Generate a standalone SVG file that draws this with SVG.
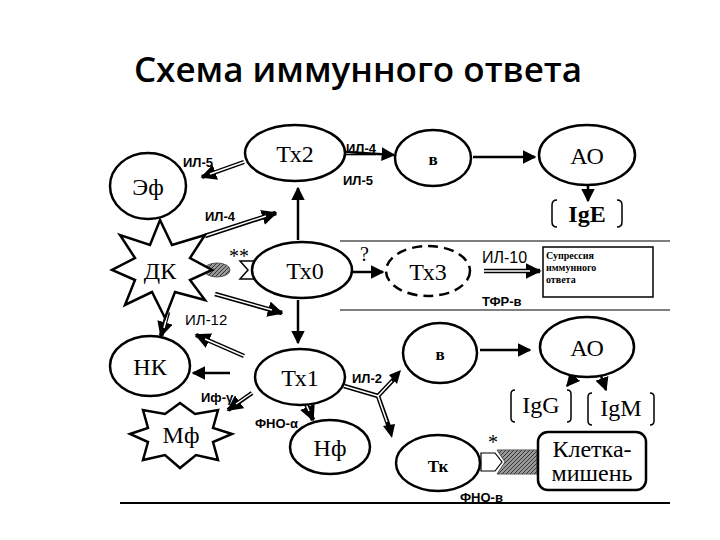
<svg xmlns="http://www.w3.org/2000/svg" width="720" height="540" viewBox="0 0 720 540">
<defs>
<style>
.n{fill:#fff;stroke:#000;stroke-width:2.5}
.d{fill:#fff;stroke:#000;stroke-width:2.5;stroke-dasharray:10 6}
.t{font-family:"Liberation Serif",serif;font-size:24px;text-anchor:middle}
.tb{font-family:"Liberation Serif",serif;font-size:17px;font-weight:bold;text-anchor:middle}
.l{font-family:"Liberation Sans",sans-serif;font-size:13px;font-weight:bold}
.s{stroke:#000;stroke-width:2.5;fill:none}
.dbo{stroke:#000;stroke-width:4.5;fill:none}
.dbi{stroke:#fff;stroke-width:1.5;fill:none}
.br{fill:none;stroke:#000;stroke-width:1.5}
.sep{stroke:#555;stroke-width:1.5}
</style>
<marker id="a" viewBox="0 0 10 10" refX="9" refY="5" markerWidth="5.5" markerHeight="5.5" orient="auto" markerUnits="strokeWidth"><path d="M0,0 L10,5 L0,10 z"/></marker>
<marker id="a2" viewBox="0 0 10 10" refX="9" refY="5" markerWidth="3.5" markerHeight="3.5" orient="auto" markerUnits="strokeWidth"><path d="M0,0 L10,5 L0,10 z"/></marker>
<pattern id="h" width="4" height="4" patternUnits="userSpaceOnUse"><rect width="4" height="4" fill="#999"/><path d="M0,4 L4,0" stroke="#333" stroke-width="1"/></pattern>
</defs>
<rect width="720" height="540" fill="#fff"/>
<text x="358" y="82" font-family="Open Sans, sans-serif" font-size="35" font-weight="600" text-anchor="middle">Схема иммунного ответа</text>
<line class="sep" x1="340" y1="241" x2="670" y2="241"/>
<line class="sep" x1="340" y1="310" x2="670" y2="310"/>
<line x1="120" y1="503" x2="670" y2="503" stroke="#000" stroke-width="2"/>

<g id="connectors">
<path class="dbo" d="M244,162 L202,177" marker-end="url(#a2)"/><path class="dbi" d="M244,162 L210,174"/>
<path class="dbo" d="M205,236 L276,213" marker-end="url(#a2)"/><path class="dbi" d="M205,236 L266,216"/>
<path class="s" d="M298,240 L298,188" marker-end="url(#a)"/>
<path class="s" d="M346,152 L394,155" marker-end="url(#a)"/>
<path class="s" d="M473,157 L535,157" marker-end="url(#a)"/>
<path class="s" d="M588,186 L588,201" marker-end="url(#a)"/>
<path class="s" d="M353,272 L383,272" marker-end="url(#a)"/>
<path class="dbo" d="M484,271 L540,271" marker-end="url(#a2)"/><path class="dbi" d="M484,271 L530,271"/>
<path class="dbo" d="M215,294 L282,313" marker-end="url(#a2)"/><path class="dbi" d="M215,294 L272,310"/>
<path class="dbo" d="M168,312 L161,336" marker-end="url(#a2)"/><path class="dbi" d="M168,312 L164,328"/>
<path class="s" d="M298,300 L298,343" marker-end="url(#a)"/>
<path class="dbo" d="M244,356 L196,335" marker-end="url(#a2)"/><path class="dbi" d="M244,356 L205,339"/>
<path class="s" d="M230,373 L193,373" marker-end="url(#a)"/>
<path class="dbo" d="M252,393 L228,410" marker-end="url(#a2)"/><path class="dbi" d="M252,393 L236,404"/>
<path class="dbo" d="M304,399 L313,420" marker-end="url(#a2)"/><path class="dbi" d="M304,399 L309,411"/>
<path class="dbo" d="M344,386 L378,396 M378,396 L395,378 M378,396 L389,427"/><path class="dbi" d="M344,386 L378,396 M378,396 L392,381 M378,396 L387,422"/>
<path d="M401,370 L389,375 L397,384 z"/>
<path d="M392,438 L383,426 L395,424 z"/>
<path class="s" d="M480,350 L530,350" marker-end="url(#a)"/>
<path class="s" d="M578,373 L567,386" marker-end="url(#a)"/>
<path class="s" d="M600,373 L606,390" marker-end="url(#a)"/>
<ellipse cx="217" cy="270" rx="13" ry="7" fill="url(#h)" stroke="#555"/>
<path d="M256,261 L240,261 L248,270 L240,279 L256,279" fill="#fff" stroke="#000" stroke-width="1.5"/>
<path d="M481,453 L495,453 L502,462 L495,471 L481,471 z" fill="#fff" stroke="#000" stroke-width="1.2"/>
<path d="M497,450 L537,450 L537,474 L497,474 L505,462 z" fill="url(#h)" stroke="#555"/>
</g>

<g id="tx2"><ellipse class="n" cx="295" cy="153" rx="50" ry="28"/><text class="t" x="295" y="162">Тх2</text></g>
<g id="ef"><ellipse class="n" cx="148" cy="186" rx="38" ry="33"/><text class="t" x="148" y="195">Эф</text></g>
<g id="dk"><polygon class="n" points="160,220 172,245 205,235 190,258 212,270 190,280 205,300 175,292 165,318 152,292 125,305 135,280 112,270 135,258 120,235 150,245"/><text class="t" x="160" y="279">ДК</text></g>
<g id="tx0"><ellipse class="n" cx="302" cy="270" rx="50" ry="28"/><text class="t" x="305" y="279">Тх0</text></g>
<g id="tx3"><ellipse class="d" cx="428" cy="271" rx="42" ry="25"/><text class="t" x="428" y="280">Тх3</text></g>
<g id="supp"><rect x="543" y="247" width="110" height="50" fill="#fff" stroke="#000" stroke-width="1.5"/><text font-family="Liberation Serif,serif" font-size="10" font-weight="bold"><tspan x="546" y="259">Супрессия</tspan><tspan x="546" y="271">иммунного</tspan><tspan x="546" y="283">ответа</tspan></text></g>
<g id="b1"><ellipse class="n" cx="433" cy="158" rx="38" ry="28"/><text class="tb" x="433" y="165">в</text></g>
<g id="ao1"><ellipse class="n" cx="587" cy="155" rx="48" ry="30"/><text class="t" x="587" y="164">АО</text></g>
<g id="ige"><path class="br" d="M557,200 Q552,200 552,205 L552,222 Q552,227 557,227 M617,200 Q622,200 622,205 L622,222 Q622,227 617,227"/><text class="t" x="587" y="222" font-size="20" font-weight="bold">IgE</text></g>
<g id="nk"><ellipse class="n" cx="150" cy="366" rx="40" ry="30"/><text class="t" x="150" y="375">НК</text></g>
<g id="tx1"><ellipse class="n" cx="300" cy="377" rx="45" ry="28"/><text class="t" x="300" y="386">Тх1</text></g>
<g id="b2"><ellipse class="n" cx="440" cy="353" rx="37" ry="30"/><text class="tb" x="440" y="360">в</text></g>
<g id="ao2"><ellipse class="n" cx="587" cy="347" rx="47" ry="30"/><text class="t" x="587" y="356">АО</text></g>
<g id="igg"><path class="br" d="M515,390 Q511,390 511,394 L511,418 Q511,422 515,422 M567,390 Q571,390 571,394 L571,418 Q571,422 567,422"/><text class="t" x="541" y="413" font-size="21">IgG</text></g>
<g id="igm"><path class="br" d="M592,393 Q588,393 588,397 L588,421 Q588,425 592,425 M650,393 Q654,393 654,397 L654,421 Q654,425 650,425"/><text class="t" x="621" y="416" font-size="21">IgM</text></g>
<g id="mf"><polygon class="n" points="180,403 195,414 218,410 213,428 232,434 213,442 218,460 196,455 180,468 165,455 143,460 148,442 130,434 148,428 143,410 165,414"/><text class="t" x="181" y="443">Мф</text></g>
<g id="nf"><ellipse class="n" cx="330" cy="447" rx="40" ry="27"/><text class="t" x="330" y="456">Нф</text></g>
<g id="tk"><ellipse class="n" cx="438" cy="463" rx="42" ry="28"/><text class="tb" x="438" y="472">Тк</text></g>
<g id="target"><rect x="538" y="432" width="108" height="58" rx="10" class="n"/><text class="t" x="592" y="457" font-size="20">Клетка-</text><text class="t" x="592" y="481" font-size="20">мишень</text></g>

<g id="labels">
<text class="l" x="183" y="167">ИЛ-5</text>
<text class="l" x="205" y="221">ИЛ-4</text>
<text class="l" x="346" y="153" text-decoration="underline">ИЛ-4</text>
<text class="l" x="343" y="185">ИЛ-5</text>
<text x="229" y="263" font-family="Liberation Serif,serif" font-size="20">**</text>
<text x="360" y="261" font-family="Liberation Serif,serif" font-size="20">?</text>
<text x="482" y="263" font-family="Liberation Sans,sans-serif" font-size="16">ИЛ-10</text>
<text class="l" x="482" y="306">ТФР-в</text>
<text x="185" y="325" font-family="Liberation Sans,sans-serif" font-size="15">ИЛ-12</text>
<text class="l" x="201" y="402">Иф-γ</text>
<text class="l" x="255" y="428">ФНО-α</text>
<text class="l" x="352" y="383">ИЛ-2</text>
<text x="488" y="449" font-family="Liberation Serif,serif" font-size="20">*</text>
<text class="l" x="460" y="502">ФНО-в</text>
</g>
</svg>
